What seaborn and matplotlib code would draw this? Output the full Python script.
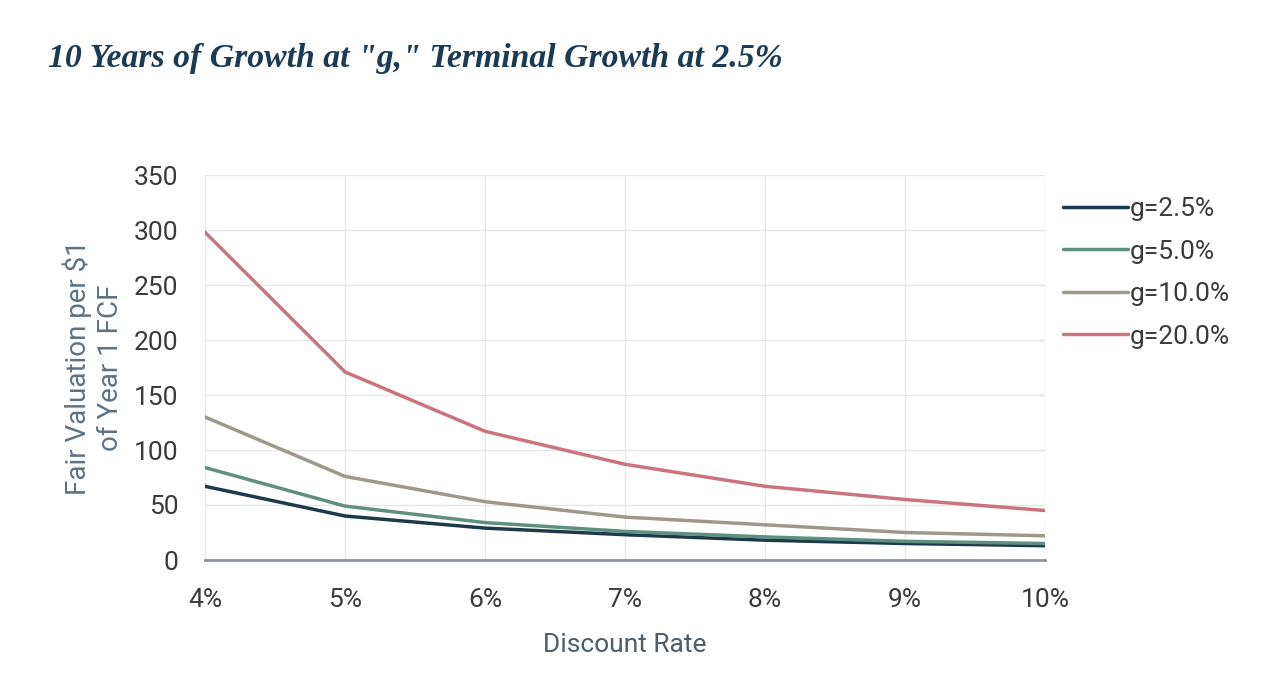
import matplotlib
matplotlib.use("Agg")
import matplotlib.pyplot as plt
import seaborn as sns
import pandas as pd

discount_rates = [4, 5, 6, 7, 8, 9, 10]
x_tick_labels = ["4%", "5%", "6%", "7%", "8%", "9%", "10%"]
series_names = ["g=2.5%", "g=5.0%", "g=10.0%", "g=20.0%"]
g_2_5 = [67, 40, 29, 23, 18, 15, 13]
g_5_0 = [84, 49, 34, 26, 21, 17, 15]
g_10_0 = [130, 76, 53, 39, 32, 25, 22]
g_20_0 = [298, 171, 117, 87, 67, 55, 45]
y_ticks = [0, 50, 100, 150, 200, 250, 300, 350]

colors = ["#1d3a4a", "#5e9080", "#9e978b", "#cc7380"]

rows = []
for name, vals in zip(series_names, [g_2_5, g_5_0, g_10_0, g_20_0]):
    for x, v in zip(discount_rates, vals):
        rows.append({"rate": x, "value": v, "series": name})
df = pd.DataFrame(rows)

sns.set_theme(style="white")
plt.rcParams['font.family'] = ['Roboto', 'DejaVu Sans']

fig = plt.figure(figsize=(12.88, 6.86), dpi=100)
ax = fig.add_axes([205/1288, 1-560/686, (1045-205)/1288, (560-175)/686])

sns.lineplot(data=df, x="rate", y="value", hue="series", hue_order=series_names,
             palette=colors, linewidth=2.5, ax=ax, legend=True)

ax.set_xlim(4, 10)
ax.set_ylim(0, 350)
ax.set_xticks(discount_rates)
ax.set_xticklabels(x_tick_labels)
ax.set_yticks(y_ticks)
ax.grid(True, color="#e3e6ea", linewidth=1.0)
for s in ["top", "right", "left"]:
    ax.spines[s].set_visible(False)
ax.spines["bottom"].set_color("#8d939b")
ax.spines["bottom"].set_linewidth(2.0)
ax.tick_params(axis="both", length=0, labelsize=19, labelcolor="#3a3a3a")
ax.tick_params(axis="x", pad=20)
ax.tick_params(axis="y", pad=19)

ax.set_xlabel("Discount Rate", fontsize=19, color="#4d5d6b", labelpad=15)
ax.set_ylabel("Fair Valuation per $1\nof Year 1 FCF", fontsize=20, color="#5f7282",
              labelpad=7, linespacing=1.25)

leg = ax.legend(loc="upper left", bbox_to_anchor=(1.009, 0.97), frameon=False,
                fontsize=19, handlelength=2.45, handletextpad=0.08,
                labelspacing=0.7, borderaxespad=0)
for t in leg.get_texts():
    t.set_color("#3a3a3a")

fig.text(48/1288, 1-58/686, "10 Years of Growth at \"g,\" Terminal Growth at 2.5%",
         fontsize=24.3, fontweight="bold", fontstyle="italic",
         family="Liberation Serif", color="#1b3a55", va="center", ha="left")

fig.savefig("out.png", dpi=100)
